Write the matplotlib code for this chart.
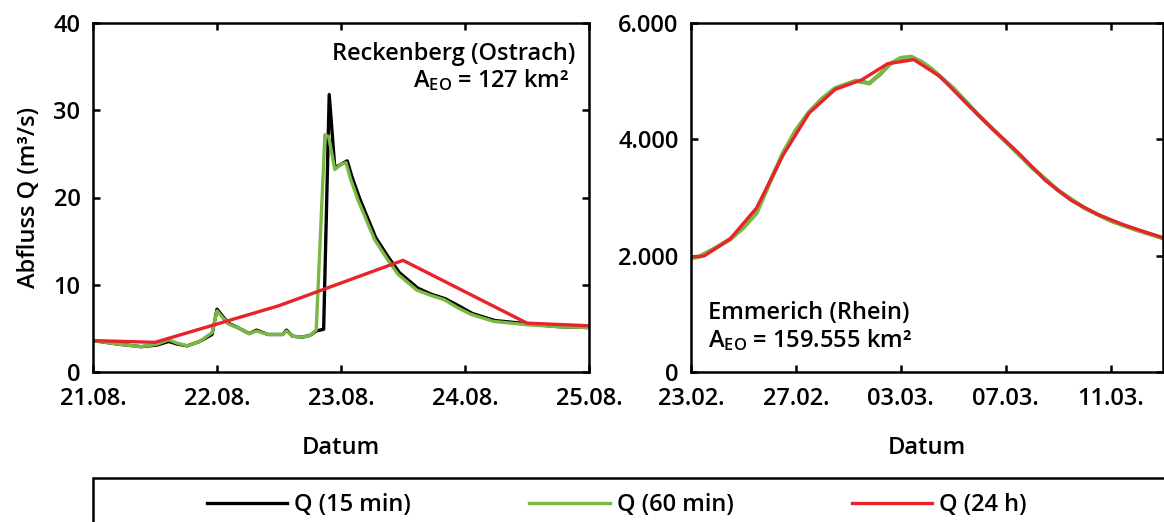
import matplotlib
matplotlib.use("Agg")
import matplotlib.pyplot as plt
from matplotlib.patches import Rectangle

# ---------------- data ----------------
# Left panel: days since 21.08. 00:00
left_tick_pos = [0, 1, 2, 3, 4]
left_tick_labels = ["21.08.", "22.08.", "23.08.", "24.08.", "25.08."]

l15_x = [0.00, 0.20, 0.39, 0.52, 0.61, 0.68, 0.76, 0.86, 0.96, 1.00, 1.09, 1.18, 1.26,
         1.32, 1.41, 1.53, 1.56, 1.61, 1.69, 1.75, 1.80, 1.86, 1.905, 1.95, 2.00, 2.05,
         2.09, 2.15, 2.28, 2.38, 2.47, 2.62, 2.73, 2.84, 2.96, 3.06, 3.24, 3.52, 3.75, 3.98]
l15_y = [3.6, 3.2, 2.9, 3.1, 3.5, 3.2, 3.0, 3.5, 4.3, 7.2, 5.6, 5.0, 4.4,
         4.8, 4.3, 4.3, 4.8, 4.1, 4.0, 4.2, 4.7, 4.9, 31.8, 23.4, 23.8, 24.2,
         22.3, 19.9, 15.4, 13.2, 11.4, 9.6, 8.9, 8.4, 7.5, 6.7, 5.9, 5.5, 5.2, 5.1]

l60_x = [0.00, 0.20, 0.39, 0.52, 0.61, 0.68, 0.76, 0.86, 0.96, 1.00, 1.09, 1.18, 1.26,
         1.32, 1.41, 1.53, 1.56, 1.61, 1.69, 1.75, 1.80, 1.87, 1.90, 1.95, 2.00, 2.04,
         2.08, 2.14, 2.27, 2.37, 2.46, 2.61, 2.72, 2.83, 2.95, 3.05, 3.23, 3.51, 3.75, 3.98]
l60_y = [3.6, 3.2, 2.9, 3.2, 3.7, 3.3, 3.0, 3.5, 4.5, 7.0, 5.5, 5.0, 4.4,
         4.7, 4.3, 4.3, 4.7, 4.1, 4.0, 4.2, 4.8, 27.2, 27.0, 23.2, 23.8, 24.0,
         22.0, 19.6, 15.2, 13.0, 11.2, 9.4, 8.8, 8.3, 7.3, 6.6, 5.8, 5.4, 5.2, 5.1]

l24_x = [0.0, 0.5, 1.5, 2.5, 3.5, 4.0]
l24_y = [3.6, 3.4, 7.6, 12.8, 5.6, 5.3]

# Right panel: days since 23.02. 00:00
right_tick_pos = [0, 4, 8, 12, 16]
right_tick_labels = ["23.02.", "27.02.", "03.03.", "07.03.", "11.03."]

r15_x = [0, 0.3, 1.0, 1.5, 2.0, 2.5, 3.0, 3.5, 4.0, 4.5, 5.0, 5.5, 6.0, 6.3, 6.8, 7.2,
         7.6, 8.0, 8.4, 8.8, 9.2, 9.6, 10.0, 11.0, 12.0, 13.0, 14.0, 15.0, 16.0, 17.0, 18.0]
r15_y = [1965, 1980, 2150, 2290, 2500, 2760, 3260, 3750, 4150, 4460, 4700, 4880, 4960,
         5000, 4970, 5110, 5300, 5390, 5410, 5330, 5200, 5040, 4880, 4400, 3960, 3520,
         3120, 2820, 2600, 2440, 2300]

r60_x = [0, 0.3, 1.0, 1.5, 2.0, 2.5, 3.0, 3.5, 4.0, 4.5, 5.0, 5.5, 6.0, 6.3, 6.8, 7.2,
         7.6, 8.0, 8.4, 8.8, 9.2, 9.6, 10.0, 11.0, 12.0, 13.0, 14.0, 15.0, 16.0, 17.0, 18.0]
r60_y = [1960, 1975, 2150, 2280, 2480, 2730, 3250, 3760, 4160, 4470, 4700, 4880, 4960,
         5010, 4960, 5120, 5300, 5400, 5420, 5330, 5200, 5040, 4880, 4400, 3960, 3520,
         3120, 2820, 2600, 2440, 2300]

r24_x = [0, 0.5, 1.5, 2.5, 3.5, 4.5, 5.5, 6.5, 7.5, 8.5, 9.5, 10.5, 11.5, 12.5, 13.5,
         14.5, 15.5, 16.5, 17.5, 18.0]
r24_y = [1980, 1995, 2290, 2820, 3720, 4450, 4860, 5020, 5300, 5370, 5080, 4620, 4180,
         3760, 3300, 2950, 2710, 2530, 2380, 2310]

right_ytick_pos = [0, 2000, 4000, 6000]
right_ytick_labels = ["0", "2.000", "4.000", "6.000"]

legend_labels = ["Q (15 min)", "Q (60 min)", "Q (24 h)"]

# ---------------- style ----------------
plt.rcParams["font.family"] = ["Open Sans", "DejaVu Sans"]
plt.rcParams["font.weight"] = "semibold"
plt.rcParams["axes.labelweight"] = "semibold"
plt.rcParams["mathtext.default"] = "regular"
FS = 17
C15, C60, C24 = "#000000", "#79b943", "#e8232b"
LW = 2.4

fig = plt.figure(figsize=(11.64, 5.22), dpi=100)
W, H = 1164.0, 522.0
ax1 = fig.add_axes([93 / W, 1 - 372 / H, (589 - 93) / W, (372 - 23) / H])
ax2 = fig.add_axes([691 / W, 1 - 372 / H, (1163 - 691) / W, (372 - 23) / H])


def style(ax):
    for s in ax.spines.values():
        s.set_linewidth(1.8)
    ax.tick_params(direction="in", top=True, right=True, length=5, width=1.8,
                   labelsize=FS)
    ax.tick_params(axis="x", pad=11)
    ax.tick_params(axis="y", pad=9)


ax1.plot(l15_x, l15_y, color=C15, lw=LW, label=legend_labels[0], solid_joinstyle="round")
ax1.plot(l60_x, l60_y, color=C60, lw=LW, label=legend_labels[1], solid_joinstyle="round")
ax1.plot(l24_x, l24_y, color=C24, lw=LW, label=legend_labels[2], solid_joinstyle="round")
ax1.set_xlim(0, 4)
ax1.set_ylim(0, 40)
ax1.set_xticks(left_tick_pos)
ax1.set_xticklabels(left_tick_labels)
ax1.set_yticks([0, 10, 20, 30, 40])
style(ax1)
ax1.set_ylabel("Abfluss Q (m³/s)", fontsize=FS, fontweight="semibold")
ax1.yaxis.set_label_coords(-0.105, 0.5)
ax1.set_xlabel("Datum", fontsize=FS, fontweight="semibold")
ax1.xaxis.set_label_coords(0.5, -0.183)
ax1.text(0.972, 0.91, "Reckenberg (Ostrach)", transform=ax1.transAxes,
         ha="right", va="center", fontsize=FS)
ax1.text(0.96, 0.835, r"A$_{EO}$ = 127 km²", transform=ax1.transAxes,
         ha="right", va="center", fontsize=FS)

ax2.plot(r15_x, r15_y, color=C15, lw=LW, solid_joinstyle="round")
ax2.plot(r60_x, r60_y, color=C60, lw=LW + 0.6, solid_joinstyle="round")
ax2.plot(r24_x, r24_y, color=C24, lw=LW, solid_joinstyle="round")
ax2.set_xlim(0, 18)
ax2.set_ylim(0, 6000)
ax2.set_xticks(right_tick_pos)
ax2.set_xticklabels(right_tick_labels)
ax2.set_yticks(right_ytick_pos)
ax2.set_yticklabels(right_ytick_labels)
style(ax2)
ax2.set_xlabel("Datum", fontsize=FS, fontweight="semibold")
ax2.xaxis.set_label_coords(0.5, -0.183)
ax2.text(0.035, 0.17, "Emmerich (Rhein)", transform=ax2.transAxes,
         ha="left", va="center", fontsize=FS)
ax2.text(0.035, 0.09, r"A$_{EO}$ = 159.555 km²", transform=ax2.transAxes,
         ha="left", va="center", fontsize=FS)

# legend frame
fig.add_artist(Rectangle((93 / W, -0.2), 1.0, 0.2 + (1 - 478 / H),
                         transform=fig.transFigure, fill=False, lw=1.8,
                         ec="black", clip_on=False))
handles = ax1.get_lines()
fig.legend(handles, legend_labels, loc="center", bbox_to_anchor=(0.530, 1 - 505 / H),
           ncol=3, frameon=False, fontsize=FS, handlelength=3.4, handletextpad=0.3,
           columnspacing=5.0)

fig.savefig("out.png", dpi=100)
